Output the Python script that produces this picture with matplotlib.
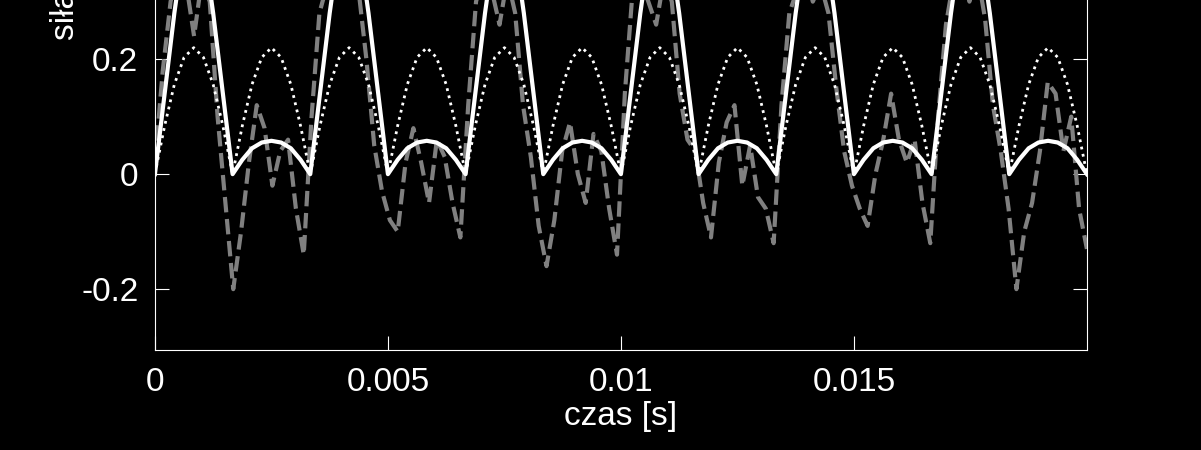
import matplotlib
matplotlib.use("Agg")
import matplotlib.pyplot as plt
import numpy as np

plt.rcParams["font.family"] = ["Liberation Sans", "DejaVu Sans"]

# one big / small lobe of the solid line, sampled over 1/600 s
big_lobe = [0.0, 0.14, 0.28, 0.40, 0.47, 0.40, 0.28, 0.14]
small_lobe = [0.0, 0.025, 0.045, 0.055, 0.058, 0.055, 0.045, 0.025]
# one lobe of the dotted line
dot_lobe = [0.0, 0.084, 0.156, 0.203, 0.22, 0.203, 0.156, 0.084]

# measured (noisy) signal, sampled every 1/6000 s
measured = [
    0.02, 0.18, 0.30, 0.36, 0.33, 0.24, 0.34, 0.30, 0.10, -0.05,
    -0.20, -0.10, 0.02, 0.12, 0.08, -0.02, 0.04, 0.06, -0.06, -0.14,
    0.10, 0.28, 0.33, 0.36, 0.32, 0.38, 0.32, 0.20, 0.05, -0.03,
    -0.08, -0.10, 0.02, 0.08, 0.02, -0.05, 0.06, 0.03, -0.05, -0.11,
    0.12, 0.30, 0.35, 0.32, 0.26, 0.34, 0.28, 0.12, 0.03, -0.09,
    -0.16, -0.08, 0.04, 0.09, 0.00, -0.05, 0.07, 0.04, -0.06, -0.14,
    0.14, 0.32, 0.34, 0.30, 0.26, 0.34, 0.30, 0.14, 0.06, 0.04,
    -0.05, -0.11, 0.02, 0.09, 0.12, -0.02, 0.05, -0.04, -0.06, -0.12,
    0.12, 0.28, 0.32, 0.36, 0.30, 0.33, 0.28, 0.15, 0.04, -0.02,
    -0.06, -0.09, 0.00, 0.06, 0.14, 0.06, 0.02, 0.06, -0.05, -0.12,
    0.10, 0.26, 0.34, 0.36, 0.30, 0.35, 0.27, 0.12, 0.04, -0.06,
    -0.20, -0.10, -0.05, 0.04, 0.16, 0.14, 0.04, 0.10, -0.06, -0.13,
]

n_periods = 6
solid = []
dotted = []
for _ in range(n_periods):
    solid += big_lobe + small_lobe
    dotted += dot_lobe + dot_lobe
solid.append(0.0)
dotted.append(0.0)
t_solid = np.linspace(0, 0.02, len(solid))
t_meas = np.linspace(0, 0.02, len(measured))

y_lo, y_hi = -0.306, 0.95
px_per_unit = 575.0
ax_h = (y_hi - y_lo) * px_per_unit / 450

fig = plt.figure(figsize=(12.01, 4.5), dpi=100, facecolor="black")
ax = fig.add_axes([0.129, 0.222, 0.776, ax_h], facecolor="black")
ax.plot(t_meas, measured, color="#808080", linestyle="--", linewidth=3)
ax.plot(t_solid, dotted, color="white", linestyle=":", linewidth=2)
ax.plot(t_solid, solid, color="white", linewidth=3)

ax.set_xlim(0, 0.02)
ax.set_ylim(y_lo, y_hi)
ax.set_xticks([0, 0.005, 0.01, 0.015])
ax.set_xticklabels(["0", "0.005", "0.01", "0.015"])
ax.set_yticks([-0.2, 0, 0.2, 0.4, 0.6, 0.8])
ax.set_yticklabels(["-0.2", "0", "0.2", "0.4", "0.6", "0.8"])
ax.tick_params(colors="white", labelsize=24, direction="in", length=10,
               right=True, top=True, pad=12)
for s in ax.spines.values():
    s.set_color("white")
ax.set_xlabel("czas [s]", color="white", fontsize=24, labelpad=2)
ax.set_ylabel("siła [N]", color="white", fontsize=24, labelpad=0)

fig.savefig("out.png", dpi=100, facecolor="black")
